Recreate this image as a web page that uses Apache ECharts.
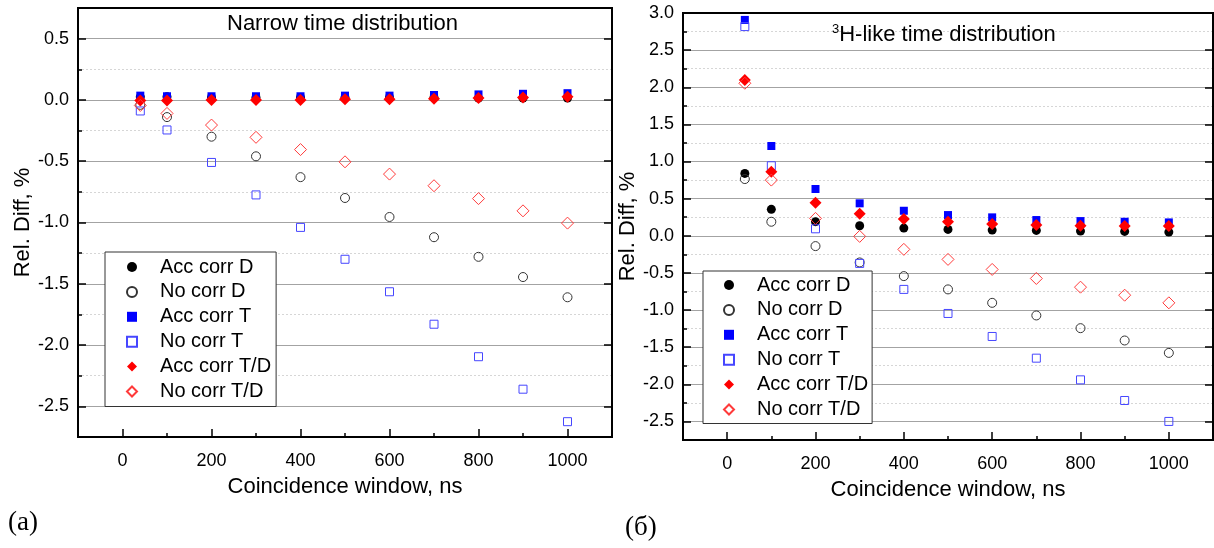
<!DOCTYPE html>
<html>
<head>
<meta charset="utf-8">
<script src="https://cdn.jsdelivr.net/npm/echarts@6/dist/echarts.min.js"></script>
<style>
html,body{margin:0;padding:0;background:#fff;}
#chart{width:1214px;height:548px;}
</style>
</head>
<body>
<div id="chart"></div>
<script>
// ---- data ----
const windows = [40, 100, 200, 300, 400, 500, 600, 700, 800, 900, 1000];
const seriesNames = ['Acc corr D', 'No corr D', 'Acc corr T', 'No corr T', 'Acc corr T/D', 'No corr T/D'];

// (a) Narrow time distribution
const narrowAccD  = [0.025, 0.025, 0.02, 0.02, 0.02, 0.02, 0.02, 0.02, 0.015, 0.015, 0.015];
const narrowNoD   = [-0.04, -0.14, -0.30, -0.46, -0.63, -0.80, -0.955, -1.12, -1.28, -1.445, -1.61];
const narrowAccT  = [0.035, 0.03, 0.03, 0.03, 0.03, 0.035, 0.035, 0.04, 0.045, 0.05, 0.055];
const narrowNoT   = [-0.09, -0.245, -0.51, -0.775, -1.04, -1.30, -1.565, -1.83, -2.095, -2.36, -2.625];
const narrowAccTD = [-0.005, -0.005, 0, 0, 0, 0.005, 0.005, 0.01, 0.015, 0.02, 0.025];
const narrowNoTD  = [-0.045, -0.11, -0.205, -0.305, -0.405, -0.505, -0.605, -0.70, -0.805, -0.905, -1.005];

// (б) 3H-like time distribution
const tritAccD  = [0.84, 0.356, 0.19, 0.135, 0.104, 0.086, 0.077, 0.072, 0.063, 0.059, 0.05];
const tritNoD   = [0.764, 0.189, -0.139, -0.359, -0.543, -0.722, -0.903, -1.073, -1.244, -1.41, -1.577];
const tritAccT  = [2.907, 1.209, 0.63, 0.437, 0.337, 0.279, 0.248, 0.212, 0.198, 0.189, 0.18];
const tritNoT   = [2.817, 0.943, 0.094, -0.372, -0.722, -1.046, -1.356, -1.648, -1.94, -2.218, -2.50];
const tritAccTD = [2.098, 0.863, 0.445, 0.297, 0.225, 0.189, 0.158, 0.144, 0.135, 0.131, 0.131];
const tritNoTD  = [2.054, 0.75, 0.234, -0.008, -0.183, -0.318, -0.453, -0.575, -0.692, -0.80, -0.903];

const panelTitleA = 'Narrow time distribution';
const panelTitleB = 'H-like time distribution';
const xName = 'Coincidence window, ns';
const yName = 'Rel. Diff, %';

// ---- styles ----
const FONT = '"Liberation Sans", Arial, sans-serif';
const markerStyles = [
  { symbol: 'circle',  symbolSize: 9,  itemStyle: { color: '#000000', opacity: 1 } },
  { symbol: 'circle',  symbolSize: 9,  itemStyle: { color: 'rgba(255,255,255,0)', borderColor: '#333333', borderWidth: 1, opacity: 1 } },
  { symbol: 'rect',    symbolSize: 8,  itemStyle: { color: '#0000ff', opacity: 1 } },
  { symbol: 'rect',    symbolSize: 8,  itemStyle: { color: 'rgba(255,255,255,0)', borderColor: '#4646ff', borderWidth: 1, opacity: 1 } },
  { symbol: 'diamond', symbolSize: 12, itemStyle: { color: '#ff0000', opacity: 1 } },
  { symbol: 'diamond', symbolSize: 12, itemStyle: { color: 'rgba(255,255,255,0)', borderColor: '#ff3a3a', borderWidth: 1, opacity: 1 } }
];

function pairs(vals) { return windows.map((x, i) => [x, vals[i]]); }

const blackLine = { show: true, onZero: false, lineStyle: { color: '#000', width: 2 } };

function bottomX(gridIndex) {
  return {
    type: 'value', gridIndex: gridIndex, position: 'bottom',
    min: -100, max: 1100, splitNumber: 6,
    axisLine: blackLine,
    axisTick: { show: true, inside: true, length: 8, lineStyle: { color: '#000', width: 1.5 } },
    minorTick: { show: true, splitNumber: 2, length: 4, lineStyle: { color: '#000', width: 1.5 } },
    axisLabel: { fontSize: 18, color: '#000', fontFamily: FONT, margin: 15,
      showMinLabel: false, showMaxLabel: false, formatter: v => String(v) },
    splitLine: { show: false },
    name: xName, nameLocation: 'middle', nameGap: 39,
    nameTextStyle: { fontSize: 22, color: '#000', fontFamily: FONT }
  };
}
function topX(gridIndex) {
  return {
    type: 'value', gridIndex: gridIndex, position: 'top',
    min: -100, max: 1100, splitNumber: 6,
    axisLine: blackLine,
    axisTick: { show: false }, axisLabel: { show: false }, splitLine: { show: false }
  };
}
function leftY(gridIndex, min, max, splitNumber, showMax) {
  return {
    type: 'value', gridIndex: gridIndex, position: 'left',
    min: min, max: max, splitNumber: splitNumber,
    axisLine: blackLine,
    axisTick: { show: true, inside: true, length: 8, lineStyle: { color: '#000', width: 1.5 } },
    minorTick: { show: true, splitNumber: 2, length: 4, lineStyle: { color: '#000', width: 1.5 } },
    axisLabel: { fontSize: 18, color: '#000', fontFamily: FONT, margin: 9,
      showMinLabel: false, showMaxLabel: showMax, formatter: v => v.toFixed(1) },
    splitLine: { show: true, showMinLine: false, showMaxLine: false, lineStyle: { color: '#a3a3a3', width: 1 } },
    minorSplitLine: { show: true, lineStyle: { color: '#d6d6d6', width: 1, type: [2, 2] } },
    name: yName, nameLocation: 'middle', nameGap: 40, nameRotate: 90,
    nameTextStyle: { fontSize: 22, color: '#000', fontFamily: FONT }
  };
}
function rightY(gridIndex, min, max, splitNumber) {
  return {
    type: 'value', gridIndex: gridIndex, position: 'right',
    min: min, max: max, splitNumber: splitNumber,
    axisLine: blackLine,
    axisTick: { show: true, inside: true, length: 8, lineStyle: { color: '#000', width: 1.5 } },
    axisLabel: { show: false }, splitLine: { show: false }
  };
}

const panelA = [narrowAccD, narrowNoD, narrowAccT, narrowNoT, narrowAccTD, narrowNoTD];
const panelB = [tritAccD, tritNoD, tritAccT, tritNoT, tritAccTD, tritNoTD];

const series = [];
[[panelA, 0], [panelB, 2]].forEach(([vals, axisIdx]) => {
  vals.forEach((arr, k) => {
    series.push(Object.assign({
      type: 'scatter', name: seriesNames[k], z: 3 + k * 0.01,
      xAxisIndex: axisIdx, yAxisIndex: axisIdx,
      data: pairs(arr), emphasis: { disabled: true }, legendHoverLink: false, silent: true
    }, JSON.parse(JSON.stringify(markerStyles[k]))));
  });
});

function legendAt(left, top, padding) {
  return {
    left: left, top: top, orient: 'vertical',
    data: seriesNames,
    itemWidth: 10, itemHeight: 10, itemGap: 4.9, padding: padding,
    borderColor: '#333', borderWidth: 1, backgroundColor: '#fff',
    selectedMode: false,
    textStyle: { fontSize: 20, color: '#000', fontFamily: FONT, lineHeight: 20, padding: [0, 0, 0, 18] }
  };
}

const option = {
  animation: false,
  textStyle: { fontFamily: FONT },
  title: [
    { text: panelTitleA, left: 227, top: 12, padding: 0,
      textStyle: { fontSize: 22, fontWeight: 'normal', color: '#000', fontFamily: FONT, lineHeight: 24 } },
    { text: '{s|3}{t|' + panelTitleB + '}', left: 832, top: 23, padding: 0,
      textStyle: { fontWeight: 'normal', color: '#000', fontFamily: FONT,
        rich: { s: { fontSize: 13, lineHeight: 13, verticalAlign: 'top', color: '#000', fontFamily: FONT },
                t: { fontSize: 22, lineHeight: 24, color: '#000', fontFamily: FONT } } } }
  ],
  grid: [
    { left: 78, top: 8, width: 534, height: 429, show: true, borderColor: '#000', borderWidth: 2, backgroundColor: 'transparent' },
    { left: 683, top: 13, width: 530, height: 427, show: true, borderColor: '#000', borderWidth: 2, backgroundColor: 'transparent' }
  ],
  xAxis: [bottomX(0), topX(0), bottomX(1), topX(1)],
  yAxis: [leftY(0, -2.75, 0.75, 7, false), rightY(0, -2.75, 0.75, 7),
          leftY(1, -2.75, 3.0, 11, true), rightY(1, -2.75, 3.0, 11)],
  legend: [legendAt(105, 252, [5, 5, 5, 21]), legendAt(703, 271, [4, 4, 4, 20])],
  graphic: [
    { type: 'text', left: 8, top: 509, style: { text: '(a)', font: '27px "Liberation Serif", serif', fill: '#000' } },
    { type: 'text', left: 625, top: 514, style: { text: '(б)', font: '27px "Liberation Serif", serif', fill: '#000' } }
  ],
  series: series
};

const chart = echarts.init(document.getElementById('chart'), null, { renderer: 'canvas' });
chart.setOption(option);
</script>
</body>
</html>
